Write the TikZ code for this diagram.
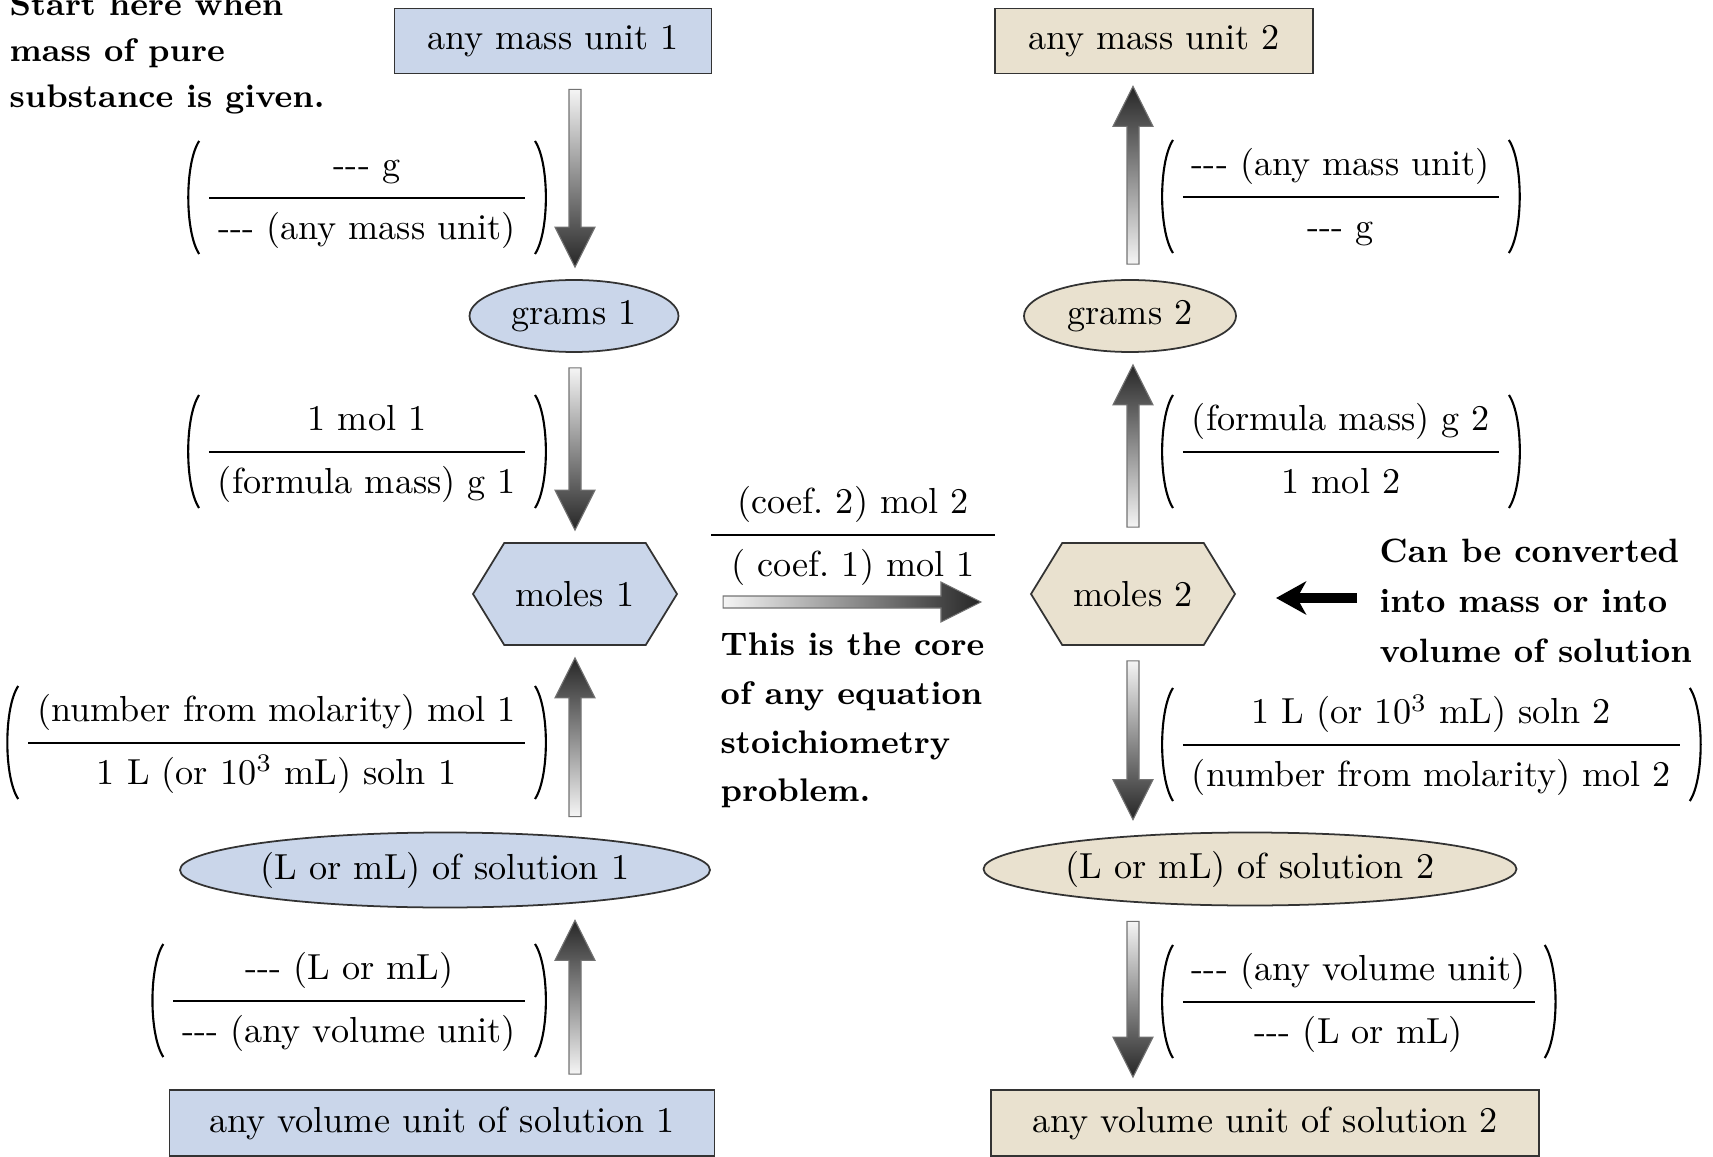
\documentclass[tikz,border=0pt]{standalone}
\usepackage{amsmath}
\usepackage{amssymb}
\usepackage{xcolor}
\usetikzlibrary{shapes.geometric,shapes.symbols,calc,arrows.meta}

\definecolor{leftblue}{RGB}{202,214,234}
\definecolor{rightsand}{RGB}{233,225,207}

\newcommand{\dashes}{\mbox{-}\mbox{-}\mbox{-}}
\newcommand{\numstrut}{\rule[-4.6pt]{0pt}{5pt}}
\newcommand{\denstrut}{\rule{0pt}{10.2pt}}
\newcommand{\convfrac}[2]{$\displaystyle\frac{\mbox{\hspace{0.9mm}\numstrut#1\hspace{0.9mm}}}{\mbox{\hspace{0.9mm}\denstrut#2\hspace{0.9mm}}}$}
% thin round brackets around a factor node
\newcommand{\parens}[1]{%
  \draw[parenline] ([shift={(1mm,6.6mm)}]#1.base west) .. controls ([shift={(-0.45mm,4.4mm)}]#1.base west) and ([shift={(-0.45mm,-2.5mm)}]#1.base west) .. ([shift={(1mm,-4.7mm)}]#1.base west);
  \draw[parenline] ([shift={(-1mm,6.6mm)}]#1.base east) .. controls ([shift={(0.45mm,4.4mm)}]#1.base east) and ([shift={(0.45mm,-2.5mm)}]#1.base east) .. ([shift={(-1mm,-4.7mm)}]#1.base east);}

% shaded block arrows: column node, start node, end node
\newcommand{\arrdown}[3]{%
  \shadedraw[flowarrow, top color=black!4, bottom color=black!85]
    let \p1=(#1 |- #2.south), \p2=(#1 |- #3.north) in
    (\x1-0.6mm,\y1-1.5mm) -- (\x1+0.6mm,\y1-1.5mm) -- (\x1+0.6mm,\y2+5.2mm)
    -- (\x1+2mm,\y2+5.2mm) -- (\x1,\y2+1.2mm) -- (\x1-2mm,\y2+5.2mm)
    -- (\x1-0.6mm,\y2+5.2mm) -- cycle;}
\newcommand{\arrup}[3]{%
  \shadedraw[flowarrow, top color=black!85, bottom color=black!4]
    let \p1=(#1 |- #2.north), \p2=(#1 |- #3.south) in
    (\x1-0.6mm,\y1+1.5mm) -- (\x1+0.6mm,\y1+1.5mm) -- (\x1+0.6mm,\y2-5.2mm)
    -- (\x1+2mm,\y2-5.2mm) -- (\x1,\y2-1.2mm) -- (\x1-2mm,\y2-5.2mm)
    -- (\x1-0.6mm,\y2-5.2mm) -- cycle;}

\begin{document}
\begin{tikzpicture}[x=0.1mm,y=-0.1mm,
    font=\fontsize{10.3pt}{12.4pt}\selectfont,
    unitbox/.style={draw=black!80, line width=0.5pt, inner sep=0pt, minimum height=6.5mm},
    oval/.style={ellipse, draw=black!80, line width=0.5pt, inner sep=0pt},
    hexa/.style={signal, signal to=west and east, signal pointer angle=117,
      draw=black!80, line width=0.5pt, inner sep=0pt, minimum width=20.4mm, minimum height=10.2mm},
    frac/.style={inner ysep=0pt, inner xsep=1.5mm},
    parenline/.style={line width=0.6pt},
    note/.style={align=left, inner sep=0pt, anchor=north west, font=\fontsize{9.3pt}{13.1pt}\selectfont\bfseries},
    flowarrow/.style={draw=black!55, line width=0.3pt}]
\useasboundingbox (0,0) rectangle (1713,1157);

% left column
\node[unitbox, fill=leftblue, minimum width=31.7mm] (mass1) at (553,41) {any mass unit 1};
\node[oval, fill=leftblue, minimum width=20.9mm, minimum height=7.2mm] (grams1) at (574,316) {grams 1};
\node[hexa, fill=leftblue] (moles1) at (575,594) {moles 1};
\node[oval, fill=leftblue, minimum width=53mm, minimum height=7.5mm] (sol1) at (445,870) {(L or mL) of solution 1};
\node[unitbox, fill=leftblue, minimum width=54.5mm, minimum height=6.6mm] (vol1) at (442,1123) {any volume unit of solution 1};

% right column
\node[unitbox, fill=rightsand, minimum width=31.8mm] (mass2) at (1154,41) {any mass unit 2};
\node[oval, fill=rightsand, minimum width=21.2mm, minimum height=7.2mm] (grams2) at (1130,316) {grams 2};
\node[hexa, fill=rightsand] (moles2) at (1133,594) {moles 2};
\node[oval, fill=rightsand, minimum width=53.3mm, minimum height=7.3mm] (sol2) at (1250,869) {(L or mL) of solution 2};
\node[unitbox, fill=rightsand, minimum width=54.8mm, minimum height=6.6mm] (vol2) at (1265,1123) {any volume unit of solution 2};

% conversion factors
\node[frac, anchor=base east] (f1) at (545,207) {\convfrac{\dashes\ g}{\dashes\ (any mass unit)}};
\node[frac, anchor=base east] (f2) at (545,461) {\convfrac{1 mol 1}{(formula mass) g 1}};
\node[frac, anchor=base east] (f3) at (545,752) {\convfrac{(number from molarity) mol 1}{1 L (or 10\textsuperscript{3} mL) soln 1}};
\node[frac, anchor=base east] (f4) at (545,1010) {\convfrac{\dashes\ (L or mL)}{\dashes\ (any volume unit)}};
\node[frac, anchor=base west] (g1) at (1163,206) {\convfrac{\dashes\ (any mass unit)}{\dashes\ g}};
\node[frac, anchor=base west] (g2) at (1163,461) {\convfrac{(formula mass) g 2}{1 mol 2}};
\node[frac, anchor=base west] (g3) at (1163,754) {\convfrac{1 L (or 10\textsuperscript{3} mL) soln 2}{(number from molarity) mol 2}};
\node[frac, anchor=base west] (g4) at (1163,1011) {\convfrac{\dashes\ (any volume unit)}{\dashes\ (L or mL)}};
\foreach \f in {f1,f2,f3,f4,g1,g2,g3,g4} {\parens{\f}}
\node[inner sep=0pt, anchor=base] (ratio) at (853,544) {$\displaystyle\frac{\makebox[28.4mm]{\numstrut(coef.\ 2) mol 2}}{\makebox[28.4mm]{\denstrut( coef.\ 1) mol 1}}$};

% notes
\node[note] (start) at (9,-8) {Start here when\\mass of pure\\substance is given.};
\node[note, font=\fontsize{9.3pt}{13.9pt}\selectfont\bfseries] (core) at (720,632) {This is the core\\of any equation\\stoichiometry\\problem.};
\node[note, font=\fontsize{9.6pt}{14.2pt}\selectfont\bfseries] (convert) at (1379,538) {Can be converted\\into mass or into\\volume of solution};

% arrows
\arrdown{moles1}{mass1}{grams1}
\arrdown{moles1}{grams1}{moles1}
\arrup{moles1}{sol1}{moles1}
\arrup{moles1}{vol1}{sol1}
\arrup{moles2}{grams2}{mass2}
\arrup{moles2}{moles2}{grams2}
\arrdown{moles2}{moles2}{sol2}
\arrdown{moles2}{sol2}{vol2}
\shadedraw[flowarrow, left color=black!4, right color=black!85]
  let \p1=(moles1.east), \p2=(moles2.west) in
  (\x1+4.5mm,\y1-1.4mm) -- (\x1+4.5mm,\y1-0.2mm) -- (\x2-8.9mm,\y1-0.2mm)
  -- (\x2-8.9mm,\y1+1.2mm) -- (\x2-4.9mm,\y1-0.8mm) -- (\x2-8.9mm,\y1-2.8mm)
  -- (\x2-8.9mm,\y1-1.4mm) -- cycle;
\coordinate (cantail) at (1357,598);
\draw[line width=1mm, shorten >=4mm, -{Stealth[length=3mm,width=3.3mm,inset=0.9mm]}] (cantail) -- (cantail -| moles2.east);
\end{tikzpicture}
\end{document}
